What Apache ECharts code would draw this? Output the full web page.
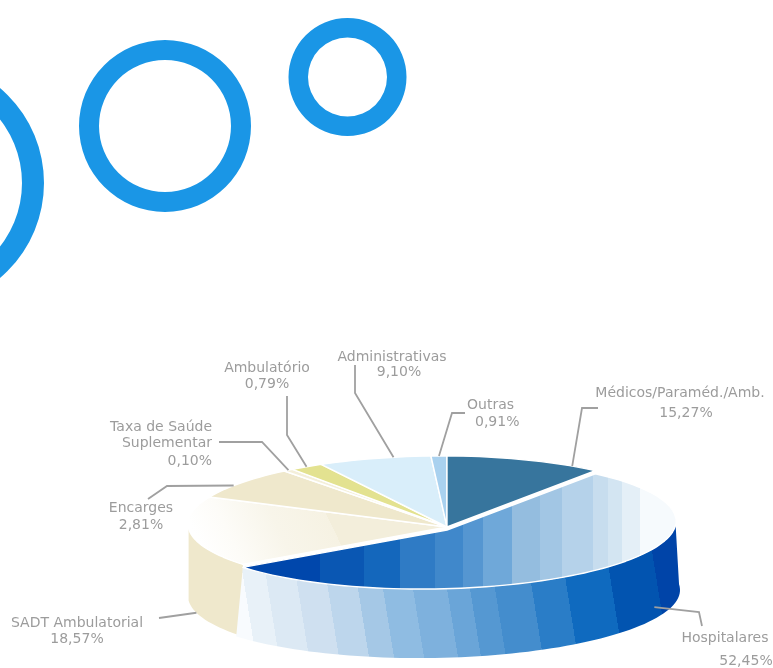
<!DOCTYPE html>
<html>
<head>
<meta charset="utf-8">
<style>html,body{margin:0;padding:0;background:#fff}#chart{width:773px;height:668px}</style>
<script src="https://cdn.jsdelivr.net/npm/echarts@6/dist/echarts.min.js"></script>
</head>
<body>
<div id="chart"></div>
<script>
// Expense shares, listed clockwise from the start of the large front slice.
const categories = ['Hospitalares', 'SADT Ambulatorial', 'Encarges', 'Taxa de Saúde Suplementar',
  'Ambulatório', 'Administrativas', 'Outras', 'Médicos/Paraméd./Amb.'];
const shares = [52.45, 18.57, 2.81, 0.10, 0.79, 9.10, 0.91, 15.27];

// Label lines (split for wrapping) and where each one sits.
const labelLines = [['Hospitalares'], ['SADT Ambulatorial'], ['Encarges'], ['Taxa de Saúde', 'Suplementar'],
  ['Ambulatório'], ['Administrativas'], ['Outras'], ['Médicos/Paraméd./Amb.']];
const labelSlots = [
  { x: [725, 746], y: [638, 661], align: 'center' },
  { x: [77, 77], y: [623, 639], align: 'center' },
  { x: [141, 141], y: [508, 525], align: 'center' },
  { x: [212, 212, 212], y: [427, 443, 461], align: 'right' },
  { x: [267, 267], y: [368, 384], align: 'center' },
  { x: [392, 399], y: [357, 372], align: 'center' },
  { x: [467, 475], y: [405, 422], align: 'left' },
  { x: [680, 686], y: [393, 413], align: 'center' }
];

// Leader lines: fixed knees, then a point on the slice (fraction along its rim, drop below the rim).
const leaders = [
  { knees: [[702, 626], [699, 612]], frac: 0.383, drop: 62 },
  { knees: [[159, 618]], frac: 0.38, drop: 72 },
  { knees: [[148, 499], [167, 486]], frac: 0.4, drop: 0 },
  { knees: [[219, 442], [262, 442]], frac: 0.5, drop: 0 },
  { knees: [[287, 396], [287, 435]], frac: 0.5, drop: 0 },
  { knees: [[355, 365], [355, 393]], frac: 0.67, drop: 0 },
  { knees: [[465, 413], [452, 413]], frac: 0.5, drop: 0 },
  { knees: [[598, 408], [582, 408]], frac: 0.82, drop: 0 }
];

// Pie geometry: a tilted ellipse with the apex set off its centre.
const PIE = { cx: 432, cy: 521, rx: 244, ry: 65, tilt: 0.012, apexX: 447, apexY: 527, wall: 72, startDeg: -48 };
const FRONT_DROP = 3;

// Far-rim foreshortening: extra degrees added at a given sweep past the front slice.
const RIM_WARP = [[0, 0], [66.85, -3.5], [76.97, 15], [77.33, 17], [80.17, 22], [112.93, 16], [116.2, 16.5], [171.18, 0]];
function rimWarp(deg) {
  for (let i = 1; i < RIM_WARP.length; i++) {
    const [a, va] = RIM_WARP[i - 1];
    const [b, vb] = RIM_WARP[i];
    if (deg <= b) return va + (vb - va) * (deg - a) / (b - a);
  }
  return 0;
}
const total = shares.reduce((a, b) => a + b, 0);
const cumulative = [0];
shares.forEach((v, i) => cumulative.push(cumulative[i] + v));
const frontSweep = shares[0] / total * 360;
function rimAngle(pct) {
  const swept = pct / total * 360;
  const outer = swept - frontSweep;
  return PIE.startDeg + swept + (outer > 0 ? rimWarp(outer) : 0);
}
function rimPoint(deg, drop, rx, cx) {
  const a = deg * Math.PI / 180;
  const x = (cx || PIE.cx) + (rx || PIE.rx) * Math.cos(a);
  const y = PIE.cy + PIE.ry * Math.sin(a) - PIE.tilt * (x - PIE.cx) + (drop || 0);
  return [x, y];
}
function arc(from, to, drop, rx, cx) {
  const n = Math.max(2, Math.ceil(Math.abs(to - from) / 2));
  const pts = [];
  for (let i = 0; i <= n; i++) pts.push(rimPoint(from + (to - from) * i / n, drop, rx, cx));
  return pts;
}
// Hard-edged colour bands along a gradient vector.
function bands(edges, colors, toPos, x, y, x2, y2) {
  const stops = [];
  colors.forEach((c, i) => {
    stops.push({ offset: i === 0 ? 0 : toPos(edges[i - 1]), color: c });
    stops.push({ offset: i === colors.length - 1 ? 1 : toPos(edges[i]), color: c });
  });
  return { type: 'linear', global: true, x, y, x2, y2, colorStops: stops };
}

const frontFaceFill = bands(
  [320, 364, 400, 435, 463, 483, 512, 540, 562, 593, 608, 622, 640],
  ['#0047ac', '#0a57b3', '#1467bc', '#2f7bc5', '#4088cb', '#5596d1', '#6fa8d9', '#94bddf', '#a2c6e4', '#b5d2ea', '#c7ddee', '#d3e5f2', '#e4eff7', '#f6fafd'],
  x => (x - 243) / 433, 243, 0, 676, 0);
const frontWallFill = bands(
  [250, 273, 303, 333, 363, 388, 418, 452, 475, 500, 537, 572, 617, 663],
  ['#f8fbfe', '#e8f1f8', '#dce9f4', '#cfe0f0', '#bdd6ec', '#a5c8e6', '#8fbce2', '#7eb1dd', '#6aa5d8', '#5598d2', '#448dcd', '#2a7dc7', '#0f6abf', '#0254b0', '#0044a8'],
  x => Math.max(0, Math.min(1, ((x - 237) * 443 - 20 * 71) / 201290)), 237, 600, 680, 529);
const sadtFaceFill = {
  type: 'linear', global: true, x: 200, y: 545, x2: 340, y2: 478,
  colorStops: [
    { offset: 0, color: '#ffffff' }, { offset: 0.2, color: '#fdfcf8' },
    { offset: 0.5, color: '#f8f5ea' }, { offset: 0.82, color: '#f6f2e3' },
    { offset: 0.82, color: '#f3eedb' }, { offset: 1, color: '#f3eedb' }
  ]
};
const faceFills = [frontFaceFill, sadtFaceFill, '#efe8cc', '#f4efda', '#e3e290', '#d9eefa', '#a9d1ef', '#37759d'];

const rings = [
  { cx: -80.5, cy: 183, r: 124.5, r0: 102.5 },
  { cx: 165, cy: 126, r: 86, r0: 66 },
  { cx: 347.5, cy: 77, r: 59, r0: 39.5 }
];
const BLUE = '#1a96e6';

const chart = echarts.init(document.getElementById('chart'), null, { renderer: 'canvas' });

function polygon(points, fill) {
  return { type: 'polygon', shape: { points }, style: { fill, stroke: null } };
}

chart.setOption({
  animation: false,
  backgroundColor: '#fff',
  graphic: {
    elements: rings.map(g => ({ type: 'ring', shape: g, style: { fill: BLUE } }))
  },
  series: [
    {
      // Side walls, back to front.
      type: 'custom',
      coordinateSystem: 'none',
      silent: true,
      z: 2,
      data: [[1], [0]],
      renderItem(params, api) {
        const i = api.value(0);
        const frontEnd = rimAngle(cumulative[1]);
        if (i === 1) {
          return polygon(arc(frontEnd, 176, 0).concat(arc(176, frontEnd, PIE.wall)), '#efe8cc');
        }
        return polygon(arc(-5, frontEnd, FRONT_DROP).concat(arc(frontEnd, -5, PIE.wall, 250, 430)), frontWallFill);
      }
    },
    {
      // Top faces.
      type: 'custom',
      coordinateSystem: 'none',
      silent: true,
      z: 3,
      data: [[1], [2], [3], [4], [5], [6], [7], [0]],
      renderItem(params, api) {
        const i = api.value(0);
        const drop = i === 0 ? FRONT_DROP : 0;
        const apex = [PIE.apexX, PIE.apexY + drop];
        const pts = [apex].concat(arc(rimAngle(cumulative[i]), rimAngle(cumulative[i + 1]), drop));
        return {
          type: 'polygon',
          shape: { points: pts },
          style: { fill: faceFills[i], stroke: '#fff', lineWidth: 1.4, lineJoin: 'round' }
        };
      }
    },
    {
      // Leader lines and slice labels.
      type: 'custom',
      coordinateSystem: 'none',
      silent: true,
      z: 4,
      data: categories.map((c, i) => [i]),
      renderItem(params, api) {
        const i = api.value(0);
        const l = leaders[i];
        const from = rimAngle(cumulative[i]);
        const to = rimAngle(cumulative[i + 1]);
        const tip = rimPoint(from + (to - from) * l.frac, l.drop);
        const children = [{
          type: 'polyline',
          shape: { points: l.knees.concat([tip]) },
          style: { fill: null, stroke: '#a0a0a0', lineWidth: 1.8 }
        }];
        const slot = labelSlots[i];
        const lines = labelLines[i].concat([shares[i].toFixed(2).replace('.', ',') + '%']);
        lines.forEach((t, k) => children.push({
          type: 'text',
          style: {
            text: t, x: slot.x[k], y: slot.y[k], fill: '#9c9c9c',
            font: '14px "DejaVu Sans"', align: slot.align, verticalAlign: 'middle'
          }
        }));
        return { type: 'group', children };
      }
    }
  ]
});
</script>
</body>
</html>
